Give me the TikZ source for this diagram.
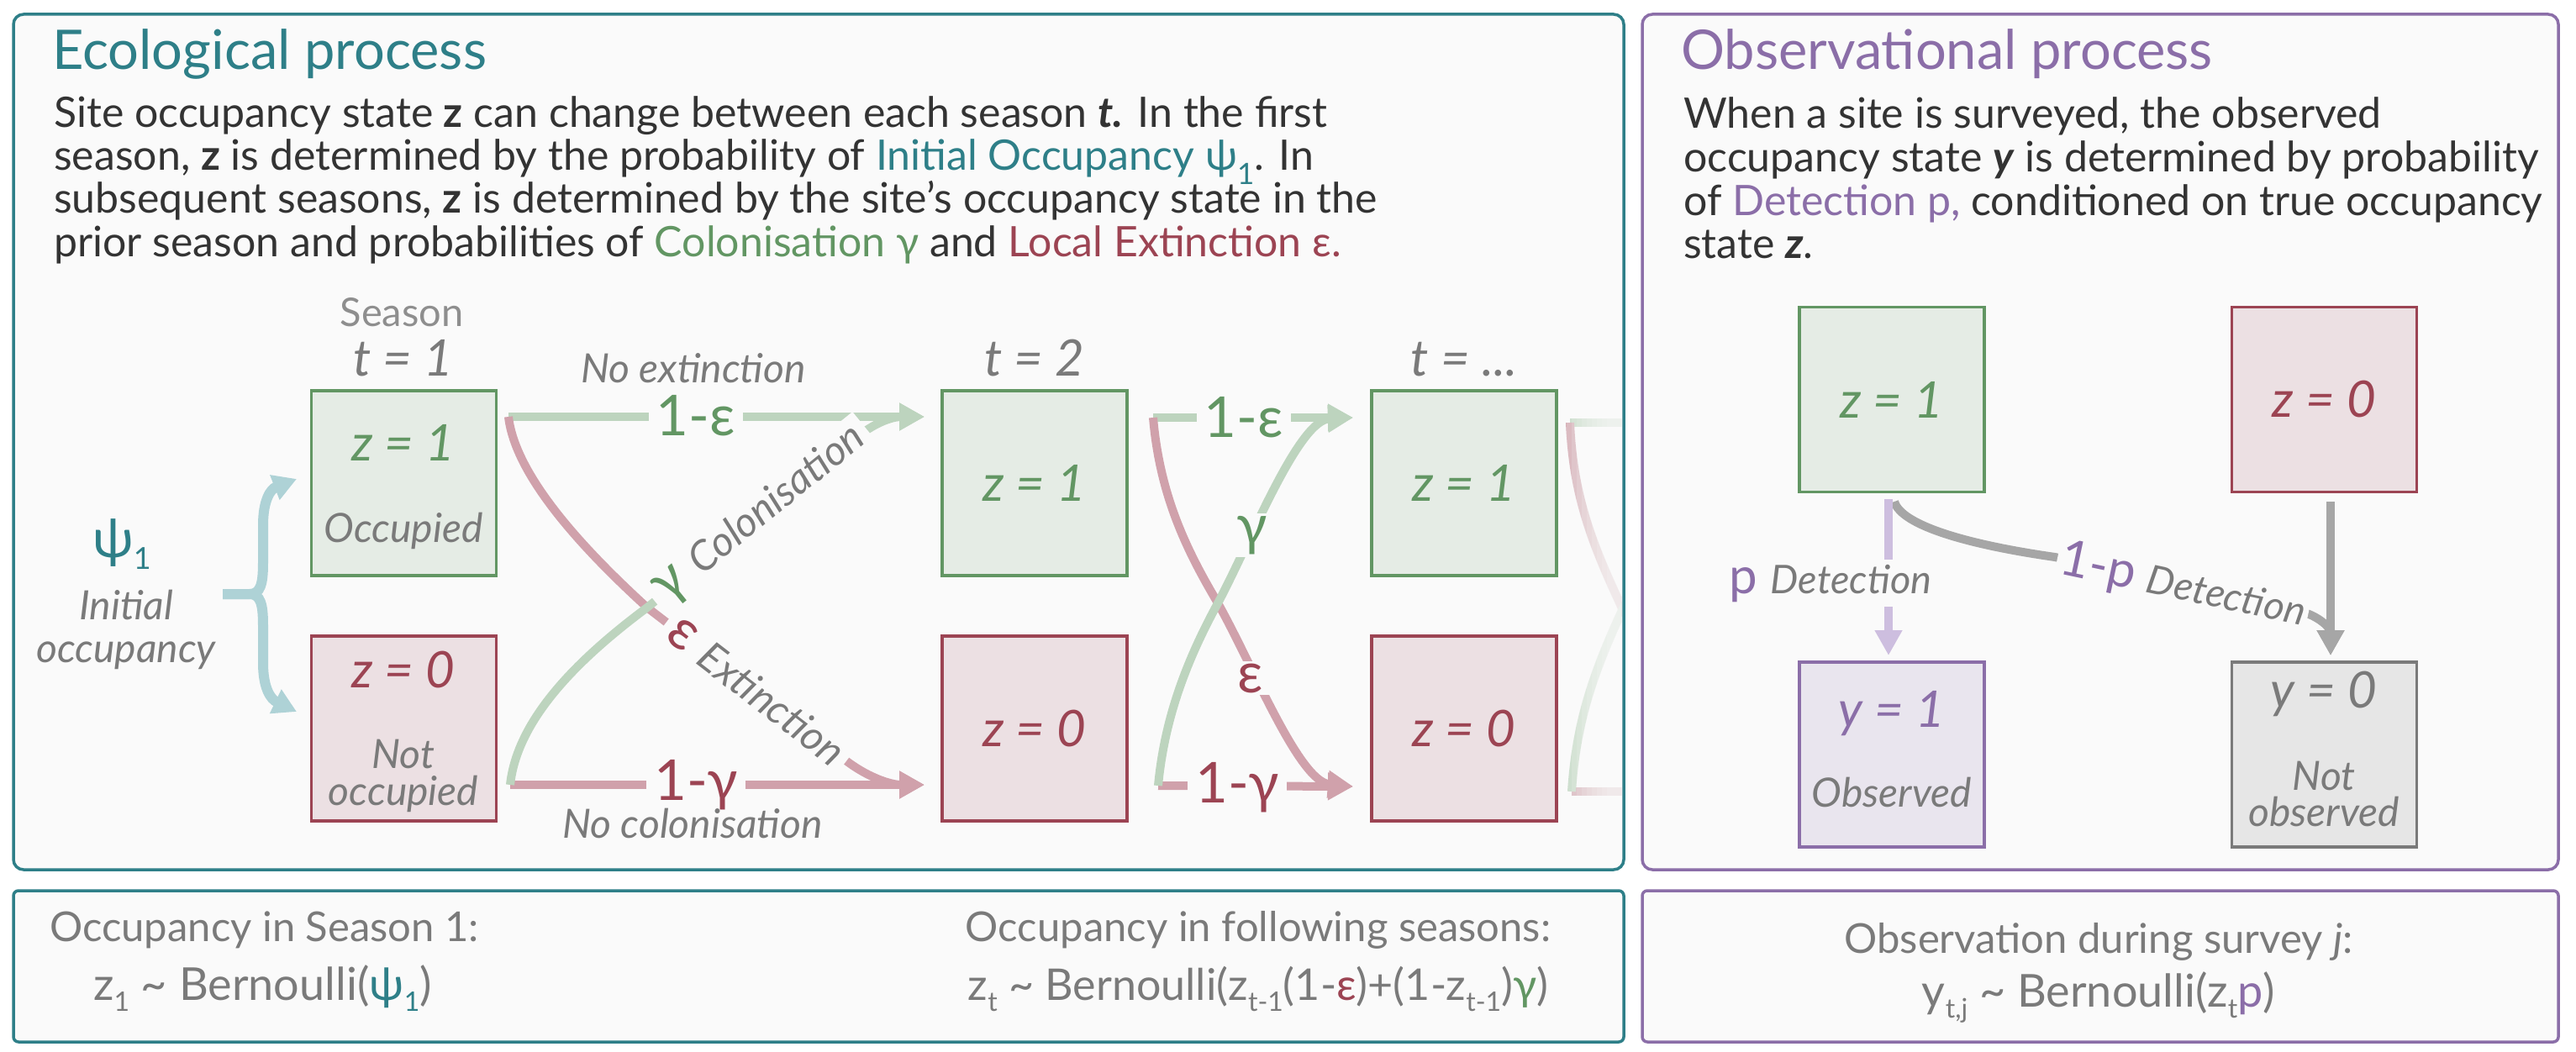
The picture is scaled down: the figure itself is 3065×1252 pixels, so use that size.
\documentclass[tikz,border=0pt]{standalone}
\usepackage{fontspec}
\setmainfont{Lato}
\usepackage{tikz}
\usetikzlibrary{arrows.meta,calc,positioning}
\definecolor{ecoTeal}{RGB}{46,127,136}
\definecolor{obsPurple}{RGB}{139,110,168}
\definecolor{occGreen}{RGB}{98,150,99}
\definecolor{occGreenFill}{RGB}{229,236,229}
\definecolor{emptyRed}{RGB}{156,68,83}
\definecolor{emptyRedFill}{RGB}{236,224,227}
\definecolor{flowGreen}{RGB}{189,212,190}
\definecolor{flowRed}{RGB}{208,161,171}
\definecolor{braceTeal}{RGB}{174,210,214}
\definecolor{detPurple}{RGB}{205,190,223}
\definecolor{obsFill}{RGB}{233,229,238}
\definecolor{missGray}{RGB}{122,122,122}
\definecolor{missFill}{RGB}{230,230,230}
\definecolor{flowGray}{RGB}{166,166,166}
\definecolor{inkGray}{RGB}{122,122,122}
\definecolor{inkDark}{RGB}{51,51,51}
\definecolor{panelBg}{RGB}{250,250,250}
\newcommand{\pxfont}[1]{\fontsize{#1}{#1}\selectfont}
\newcommand{\lowsub}[1]{\raisebox{-13pt}{\pxfont{32}#1}}
\tikzset{
  panel/.style={line width=3.5pt, fill=panelBg, rounded corners=12pt},
  statebox/.style={draw, line width=3.5pt, minimum width=220pt, minimum height=220pt,
    inner sep=0pt, font=\pxfont{60}\itshape},
  occbox/.style={statebox, draw=occGreen, fill=occGreenFill, text=occGreen},
  emptybox/.style={statebox, draw=emptyRed, fill=emptyRedFill, text=emptyRed},
  seenbox/.style={statebox, draw=obsPurple, fill=obsFill, text=obsPurple},
  missbox/.style={statebox, draw=missGray, fill=missFill, text=inkGray},
  boxtext/.style={inner sep=0pt, anchor=base, font=\pxfont{60}\itshape},
  note/.style={inner sep=0pt, anchor=base, font=\pxfont{48}\itshape, text=inkGray},
  prob/.style={font=\pxfont{67}, fill=panelBg, inner xsep=9pt, inner ysep=3pt},
  flow/.style={line width=10pt, -{Triangle[length=30pt,width=31pt]}},
  bodytext/.style={inner sep=0pt, anchor=base west, font=\pxfont{50}, text=inkDark},
  heading/.style={inner sep=0pt, anchor=base west, font=\pxfont{65}},
  formula/.style={inner sep=0pt, anchor=base, font=\pxfont{54}, text=inkGray},
}

\begin{document}
\begin{tikzpicture}[x=1pt,y=-1pt]
  \fill[white] (0,0) rectangle (3065,1252);
  \useasboundingbox (0,0) rectangle (3065,1252);
  % panels
  \draw[panel, draw=ecoTeal] (16,17) rectangle (1932,1035);
  \draw[panel, draw=obsPurple] (1954,17) rectangle (3044,1035);
  \draw[panel, draw=ecoTeal, rounded corners=6pt] (16,1060) rectangle (1932,1240);
  \draw[panel, draw=obsPurple, rounded corners=6pt] (1954,1060) rectangle (3044,1240);

  % ecological process text
  \node[heading, text=ecoTeal] (ecoTitle) at (62,83) {Ecological process};
  \node[bodytext] (eco1) at (64,152) {Site occupancy state \textbf{z} can change between each season \textbf{\textit{t.}} In the first};
  \node[bodytext] (eco2) at (64,203) {season, \textbf{z} is determined by the probability of \textcolor{ecoTeal}{Initial Occupancy ψ\textsubscript{1}}. In};
  \node[bodytext] (eco3) at (64,254) {subsequent seasons, \textbf{z} is determined by the site's occupancy state in the};
  \node[bodytext] (eco4) at (64,305) {prior season and probabilities of \textcolor{occGreen}{Colonisation γ} and \textcolor{emptyRed}{Local Extinction ε.}};

  % seasons
  \node[inner sep=0pt, anchor=base, font=\pxfont{47}, text=inkGray!85] (season) at (478,388) {Season};
  \node[boxtext, text=inkGray] (t1) at (480,447) {t = 1};
  \node[boxtext, text=inkGray] (t2) at (1231,447) {t = 2};
  \node[boxtext, text=inkGray] (t3) at (1742,447) {t = ...};

  \node[occbox] (z11) at (480.5,575) {};
  \node[emptybox] (z01) at (480.5,867) {};
  \node[occbox] (z12) at (1231,575) {z = 1};
  \node[emptybox] (z02) at (1231,867) {z = 0};
  \node[occbox] (z13) at (1742,575) {z = 1};
  \node[emptybox] (z03) at (1742,867) {z = 0};
  \node[boxtext, text=occGreen] (z11txt) at (480,548) {z = 1};
  \node[note] (occ) at (480,645) {Occupied};
  \node[boxtext, text=emptyRed] (z01txt) at (480,818) {z = 0};
  \node[note] (notOcc1) at (480,914) {Not};
  \node[note] (notOcc2) at (480,958) {occupied};

  % initial occupancy
  \node[inner sep=0pt, anchor=base, text=ecoTeal, font=\pxfont{64}] (psi) at (145,663) {ψ\raisebox{-14pt}{\pxfont{36}1}};
  \node[note] (init1) at (150,737) {Initial};
  \node[note] (init2) at (150,788) {occupancy};
  \coordinate (psiR) at (265,707);
  \coordinate (up) at (353,570);
  \coordinate (dn) at (353,847);
  \draw[braceTeal, line width=12pt, -{Triangle[length=28pt,width=30pt]}]
    (psiR) -- (297,707) .. controls (310,707) and (313,695) .. (313,670) -- (313,625)
    .. controls (313,595) and (322,582) .. (up);
  \draw[braceTeal, line width=12pt, -{Triangle[length=28pt,width=30pt]}]
    (psiR) -- (297,707) .. controls (310,707) and (313,719) .. (313,744) -- (313,789)
    .. controls (313,819) and (322,832) .. (dn);

  % season 1 -> 2
  \coordinate (aT) at (605,496);
  \coordinate (aB) at (607,934);
  \coordinate (bT) at (1100,496);
  \coordinate (bB) at (1100,934);
  \draw[flow, flowGreen] (aT) -- (bT);
  \draw[flow, flowRed] (aB) -- (bB);
  \draw[flow, flowRed] (aT) .. controls (613,565) and (690,650) .. (770,723) -- (1000,900)
    .. controls (1030,925) and (1060,934) .. (bB);
  \draw[flow, flowGreen] (aB) .. controls (615,860) and (680,790) .. (770,723) -- (1020,520)
    .. controls (1045,500) and (1065,496) .. (bT);
  \node[prob, text=occGreen] (ne1) at (828,495) {1-ε};
  \node[prob, text=emptyRed] (nc1) at (828,934) {1-γ};
  \node[note] (noExt) at (825,455) {No extinction};
  \node[note] (noCol) at (824,997) {No colonisation};
  \node[prob, rotate=39] (col1) at (905,613) {\textcolor{occGreen}{γ} {\pxfont{49}\itshape\color{inkGray}Colonisation}};
  \node[prob, rotate=-37.6] (ext1) at (900,823) {\textcolor{emptyRed}{ε} {\pxfont{49}\itshape\color{inkGray}Extinction}};

  % season 2 -> ...
  \coordinate (cT) at (1372,497);
  \coordinate (cB) at (1378,935);
  \coordinate (dT) at (1610,497);
  \coordinate (dB) at (1610,936);
  \draw[flow, flowGreen] (cT) -- (dT);
  \draw[flow, flowRed] (cB) -- (dB);
  \draw[flow, flowRed] (cT) .. controls (1380,590) and (1412,655) .. (1448,716)
    .. controls (1490,790) and (1545,930) .. (dB);
  \draw[flow, flowGreen] (cB) .. controls (1386,850) and (1415,780) .. (1450,716)
    .. controls (1490,640) and (1545,500) .. (dT);
  \node[prob, text=occGreen] (ne2) at (1480,497) {1-ε};
  \node[prob, text=emptyRed] (nc2) at (1472,937) {1-γ};
  \node[prob, text=occGreen] (col2) at (1490,637) {γ};
  \node[prob, text=emptyRed] (ext2) at (1488,807) {ε};

  % season ... -> (faded)
  \coordinate (fT) at (1868,503);
  \coordinate (fB) at (1870,942);
  \begin{scope}
    \clip (1858,440) rectangle (1929,1000);
    \draw[flowGreen, line width=10pt] (fT) -- ++(80,0);
    \draw[flowRed, line width=10pt] (fB) -- ++(80,0);
    \draw[flowRed, line width=10pt] (fT) .. controls (1872,600) and (1900,660) .. (1940,745);
    \draw[flowGreen, line width=10pt] (fB) .. controls (1876,850) and (1900,790) .. (1940,705);
    \foreach \i in {0,...,9}
      \fill[panelBg, opacity=0.16] (1858+6*\i,440) rectangle (1929,1000);
  \end{scope}

  % observational process
  \node[heading, text=obsPurple] (obsTitle) at (2000,83) {Observational process};
  \node[bodytext] (obs1) at (2003,153) {When a site is surveyed, the observed};
  \node[bodytext] (obs2) at (2003,205) {occupancy state \textbf{\textit{y}} is determined by probability};
  \node[bodytext] (obs3) at (2003,256) {of \textcolor{obsPurple}{Detection p,} conditioned on true occupancy};
  \node[bodytext] (obs4) at (2003,307) {state \textbf{\textit{z}}.};

  \node[occbox] (oz1) at (2251,475.5) {z = 1};
  \node[emptybox] (oz0) at (2765.5,475.5) {z = 0};
  \node[seenbox] (oy1) at (2251,898) {};
  \node[missbox] (oy0) at (2765.5,898) {};
  \node[boxtext, text=obsPurple] (oy1txt) at (2251,865) {y = 1};
  \node[note] (seen) at (2251,960) {Observed};
  \node[boxtext, text=inkGray] (oy0txt) at (2765,842) {y = 0};
  \node[note] (notSeen1) at (2765,940) {Not};
  \node[note] (notSeen2) at (2765,983) {observed};

  \coordinate (pTop) at (2247,594);
  \coordinate (pTip) at (2247,780);
  \coordinate (qTop) at (2254,597);
  \coordinate (rTop) at (2773,597);
  \coordinate (rTip) at (2773,780);
  \draw[flow, flowGray] (qTop) .. controls (2262,625) and (2340,648) .. (2445,663) -- (2735,727)
    .. controls (2760,733) and (2773,748) .. (rTip);
  \draw[flow, flowGray] (rTop) -- (rTip);
  \draw[flow, detPurple] (pTop) -- (pTip);
  \node[prob, anchor=base, inner xsep=6pt, inner ysep=6pt, font=\pxfont{60}] (pDet) at (2178,706)
    {\textcolor{obsPurple}{p} {\pxfont{47}\itshape\color{inkGray}Detection}};
  \node[prob, anchor=base west, rotate=-12, inner xsep=4pt, font=\pxfont{60}] (qDet) at (2444,682)
    {\textcolor{obsPurple}{1-p} {\pxfont{47}\itshape\color{inkGray}Detection}};

  % model formulas
  \node[formula, anchor=base west, font=\pxfont{49}] (f1a) at (59,1120) {Occupancy in Season 1:};
  \node[formula, anchor=base west] (f1b) at (111,1190) {z\lowsub{1} \textasciitilde{} Bernoulli(\textcolor{ecoTeal}{ψ\lowsub{1}})};
  \node[formula, font=\pxfont{49}] (f2a) at (1497,1120) {Occupancy in following seasons:};
  \node[formula, font=\pxfont{52}] (f2b) at (1497,1190) {z\lowsub{t} \textasciitilde{} Bernoulli(z\lowsub{t-1}(1-\textcolor{emptyRed}{ε})+(1-z\lowsub{t-1})\textcolor{occGreen}{γ})};
  \node[formula, font=\pxfont{49}] (f3a) at (2497,1134) {Observation during survey \textit{j}:};
  \node[formula] (f3b) at (2497,1198) {y\lowsub{t,j} \textasciitilde{} Bernoulli(z\lowsub{t}\textcolor{obsPurple}{p})};
\end{tikzpicture}
\end{document}
